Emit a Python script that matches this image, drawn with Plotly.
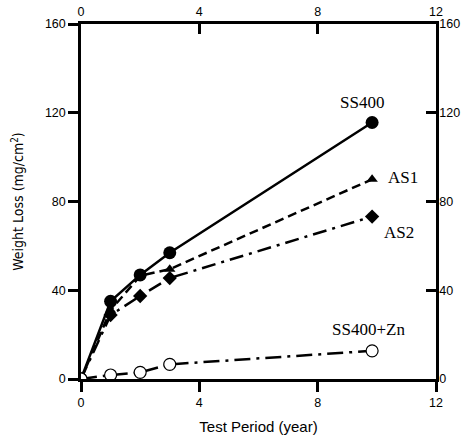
import plotly.graph_objects as go

# Test period (year) and weight loss (mg/cm^2) for each steel
years = [0, 1, 2, 3, 9.84]
ss400 = [0, 35.0, 46.9, 56.9, 115.6]
as1 = [0, 31.0, 46.5, 49.5, 90.0]
as2 = [0, 28.8, 37.4, 45.5, 73.2]
ss400_zn = [0, 1.8, 3.0, 6.6, 12.7]

x_ticks = [0, 4, 8, 12]
y_ticks = [0, 40, 80, 120, 160]

series_labels = ["SS400", "AS1", "AS2", "SS400+Zn"]

fig = go.Figure()

fig.add_trace(go.Scatter(
    x=years, y=ss400, mode="lines+markers", name=series_labels[0],
    line=dict(color="black", width=2.5),
    marker=dict(symbol="circle", size=13, color="black"),
))
fig.add_trace(go.Scatter(
    x=years, y=as1, mode="lines+markers", name=series_labels[1],
    line=dict(color="black", width=2.5, dash="9px,5px"),
    marker=dict(symbol="triangle-up", size=10, color="black"),
))
fig.add_trace(go.Scatter(
    x=years, y=as2, mode="lines+markers", name=series_labels[2],
    line=dict(color="black", width=2.5, dash="14px,6px,3px,6px"),
    marker=dict(symbol="diamond", size=11, color="black"),
))
fig.add_trace(go.Scatter(
    x=years, y=ss400_zn, mode="lines+markers", name=series_labels[3],
    line=dict(color="black", width=2.5, dash="16px,6px,3px,6px"),
    marker=dict(symbol="circle", size=12, color="white",
                line=dict(color="black", width=1.2)),
))

# Invisible trace that carries the mirrored top/right axes
fig.add_trace(go.Scatter(
    x=[0, 12], y=[0, 160], xaxis="x2", yaxis="y2", mode="markers",
    marker=dict(opacity=0), hoverinfo="skip", showlegend=False,
))

label_font = dict(family="Liberation Serif, Times New Roman, serif", size=17, color="black")
label_pos = [
    (series_labels[0], years[-1], ss400[-1], -10, 20, "center"),
    (series_labels[1], years[-1], as1[-1], 14, 2, "left"),
    (series_labels[2], years[-1], as2[-1], 10, -16, "left"),
    (series_labels[3], years[-1], ss400_zn[-1], -4, 21, "center"),
]
for text, xv, yv, dx, dy, anchor in label_pos:
    fig.add_annotation(x=xv, y=yv, text=text, showarrow=False, font=label_font,
                       xshift=dx, yshift=dy, xanchor=anchor, yanchor="middle")

sans = "Liberation Sans, Arial, sans-serif"
narrow = "DejaVu Sans Condensed, sans-serif"
tick_font = dict(family=sans, size=12.5, color="black")
axis_common = dict(showline=True, linecolor="black", linewidth=2.5,
                   tickwidth=2.5, tickcolor="black", ticklen=10,
                   showgrid=False, zeroline=False, tickfont=tick_font,
                   automargin=False)

fig.update_layout(
    width=461, height=441,
    margin=dict(l=81, r=25, t=24, b=62),
    paper_bgcolor="white", plot_bgcolor="white",
    showlegend=False,
    xaxis=dict(range=[0, 12], tickvals=x_ticks, ticks="outside",
               title=dict(text="Test Period (year)",
                          font=dict(family=sans, size=15, color="black"), standoff=13),
               **axis_common),
    yaxis=dict(range=[0, 160], tickvals=y_ticks, ticks="outside",
               title=dict(text="Weight Loss (mg/cm<sup>2</sup>)",
                          font=dict(family=narrow, size=14, color="black"), standoff=18),
               **axis_common),
    xaxis2=dict(range=[0, 12], tickvals=x_ticks, ticks="inside", side="top",
                overlaying="x", **axis_common),
    yaxis2=dict(range=[0, 160], tickvals=y_ticks, ticks="inside", side="right",
                overlaying="y", ticklabelstandoff=-2, **axis_common),
)

fig.write_html("out.html")
